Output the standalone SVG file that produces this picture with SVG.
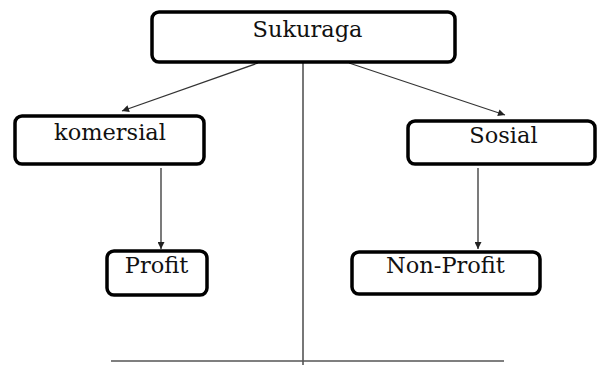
<svg xmlns="http://www.w3.org/2000/svg" width="598" height="365" viewBox="0 0 598 365">
<style>
.box{fill:#fff;stroke:#000;stroke-width:3.5}
.lbl{font-family:"DejaVu Serif","Liberation Serif",serif;font-size:22.5px;fill:#111;text-anchor:middle}
.con{stroke:#333;stroke-width:1.3;fill:none}
.axis{stroke:#555;stroke-width:1.6;fill:none}
</style>
<defs>
<marker id="ah" viewBox="0 0 10 10" refX="10" refY="5" markerWidth="10" markerHeight="7" markerUnits="userSpaceOnUse" orient="auto">
<path d="M0,0 L10,5 L0,10 z" fill="#222"/>
</marker>
</defs>
<g id="connectors">
<line class="axis" x1="303" y1="63" x2="303" y2="365"/>
<line class="axis" x1="111" y1="361" x2="504" y2="361"/>
<line class="con" x1="258" y1="63" x2="122" y2="111" marker-end="url(#ah)"/>
<line class="con" x1="349" y1="63" x2="505" y2="115" marker-end="url(#ah)"/>
<line class="con" x1="161" y1="168" x2="161" y2="249" marker-end="url(#ah)"/>
<line class="con" x1="478" y1="168" x2="478" y2="249" marker-end="url(#ah)"/>
</g>
<g id="sukuraga">
<rect class="box" x="152" y="12" width="303" height="50" rx="7"/>
<text class="lbl" x="307.5" y="37">Sukuraga</text>
</g>
<g id="komersial">
<rect class="box" x="15" y="116" width="189" height="48" rx="7"/>
<text class="lbl" x="110" y="140">komersial</text>
</g>
<g id="sosial">
<rect class="box" x="408" y="121" width="187" height="43" rx="7"/>
<text class="lbl" x="503.5" y="143">Sosial</text>
</g>
<g id="profit">
<rect class="box" x="107" y="251" width="100" height="44" rx="7"/>
<text class="lbl" x="156.5" y="273">Profit</text>
</g>
<g id="nonprofit">
<rect class="box" x="352" y="252" width="188" height="42" rx="7"/>
<text class="lbl" x="445.5" y="273">Non-Profit</text>
</g>
</svg>
